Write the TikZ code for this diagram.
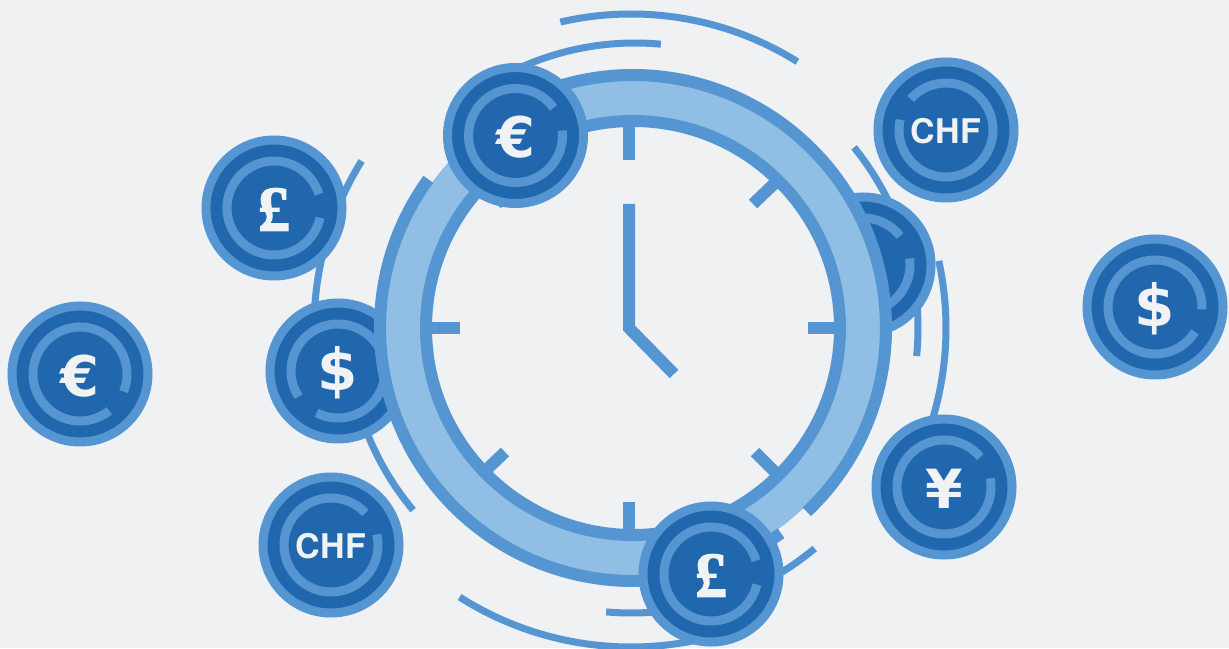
\documentclass[tikz,border=0pt]{standalone}
\usepackage{fontspec}
\setmainfont{Liberation Sans}
\newfontfamily\symfont{DejaVu Sans}[BoldFont={DejaVu Sans Bold}]
\newfontfamily\poundfont{Liberation Serif Bold}[FakeBold=2]
\newfontfamily\chffont{TeX Gyre Heros}
\usetikzlibrary{calc}
\definecolor{bgc}{HTML}{EFF1F3}
\definecolor{midc}{HTML}{5596D2}
\definecolor{lightc}{HTML}{90BEE4}
\definecolor{darkc}{HTML}{2167AE}
\definecolor{textc}{HTML}{F0F2F4}
\tikzset{
  coinbody/.style={circle,draw=midc,fill=darkc,line width=9pt,minimum size=136pt,inner sep=0pt,text=textc,font=\bfseries},
  coinring/.style={draw=midc,line width=9pt},
  swoosh/.style={draw=midc,line width=7pt},
  rim/.style={draw=midc,line width=12pt},
  band/.style={draw=lightc,line width=36pt},
  tickmark/.style={draw=midc,line width=12pt},
}
\newcommand{\rarc}[5]{\draw[#1] ($(#2)+(#4:#3)$) arc[start angle=#4,end angle=#5,radius=#3];}
\newcommand{\coin}[7]{%
  \node[coinbody] (#1) at (#2,#3) {\fontsize{#4}{#4}\selectfont #5};
  \rarc{coinring}{#1.center}{47pt}{#6}{#7}}
\newcommand{\lowered}[1]{\raisebox{0pt}[\dimexpr\height+#1\relax][\depth]}
\newcommand{\sym}[1]{\lowered{4pt}{\symfont\bfseries #1}}
\newcommand{\pnd}{\lowered{3pt}{\poundfont\mdseries £}}
\newcommand{\chf}{\lowered{2pt}{\chffont\bfseries CHF}}
\begin{document}
\begin{tikzpicture}[x=1pt,y=1pt]
\useasboundingbox (0,0) rectangle (1229,648);
\fill[bgc] (0,0) rectangle (1229,648);
\coordinate (o) at (633,320);
\coordinate (t) at (631,320);
\coordinate (u) at (635,325);
% swooshes
\rarc{swoosh}{t}{314pt}{103}{58}
\rarc{swoosh}{u}{280pt}{84.7}{115}
\rarc{swoosh}{t}{287pt}{39}{-5.6}
\rarc{swoosh}{t}{315pt}{12.3}{-20}
\rarc{swoosh}{t}{317pt}{148.2}{180}
\rarc{swoosh}{t}{284pt}{219.9}{200}
\rarc{swoosh}{t}{319pt}{237.5}{282}
\rarc{swoosh}{t}{285pt}{265}{280}
\rarc{swoosh}{t}{287pt}{-50.2}{-65}
% coins under the clock
\coin{coinA}{863}{383}{48}{}{38}{368}
\coin{coinB}{338}{277}{58}{\sym{\$}}{243}{573}
% clock face
\fill[bgc] (o) circle[radius=205pt];
\draw[tickmark] (629,522) -- (629,488);
\draw[tickmark] (629,146) -- (629,112);
\draw[tickmark] (428,320) -- (460,320);
\draw[tickmark] (838,320) -- (808,320);
\draw[tickmark] (776,466) -- (753,444);
\draw[tickmark] (776,175) -- (755,196);
\draw[tickmark] (483,175) -- (505,196);
\draw[tickmark] (483,466) -- (505,444);
\draw[tickmark,line join=miter] (629,444) -- (629,320) -- (674,274);
% ring
\draw[band] (o) circle[radius=230pt];
\draw[rim] (o) circle[radius=207pt];
\rarc{rim}{o}{253pt}{144}{305.8}
\rarc{rim}{o}{253pt}{-46.6}{125}
% coins over the clock
\coin{coinC}{515.5}{512.5}{56}{\sym{€}}{36}{366}
\coin{coinD}{711}{74}{64}{\pnd}{16.4}{347}
\coin{coinE}{274}{440}{64}{\pnd}{17}{348}
\coin{coinF}{80}{274}{56}{\sym{€}}{-22}{308.5}
\coin{coinG}{331}{103}{34}{\chf}{43}{373}
\coin{coinH}{946}{518}{34}{\chf}{167.4}{498.7}
\coin{coinI}{944}{161}{54}{\sym{¥}}{39.5}{370.6}
\coin{coinJ}{1155}{341}{58}{\sym{\$}}{-3}{328}
\end{tikzpicture}
\end{document}
